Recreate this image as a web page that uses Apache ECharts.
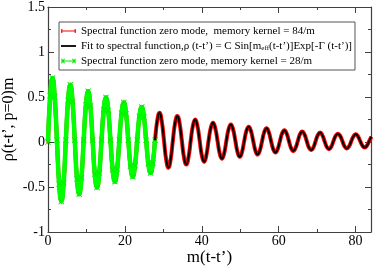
<!DOCTYPE html>
<html><head><meta charset="utf-8">
<script src="https://cdn.jsdelivr.net/npm/echarts@6/dist/echarts.min.js"></script>
<style>html,body{margin:0;padding:0;background:#fff}#c{width:374px;height:267px}</style>
</head><body><div id="c"></div>
<script>
// time axis m(t-t')
var xs = [0,0.58,1.16,1.74,2.32,2.9,3.48,4.06,4.64,5.22,5.8,6.38,6.96,7.54,8.12,8.7,9.28,9.86,10.44,11.02,11.6,12.18,12.76,13.34,13.92,14.5,15.08,15.66,16.24,16.82,17.4,17.98,18.56,19.14,19.72,20.3,20.88,21.46,22.04,22.62,23.2,23.78,24.36,24.94,25.52,26.1,26.68,27.26,27.84,28.42,29.0,29.58,30.16,30.74,31.32,31.9,32.48,33.06,33.64,34.22,34.8,35.38,35.96,36.54,37.12,37.7,38.28,38.86,39.44,40.02,40.6,41.18,41.76,42.34,42.92,43.5,44.08,44.66,45.24,45.82,46.4,46.98,47.56,48.14,48.72,49.3,49.88,50.46,51.04,51.62,52.2,52.78,53.36,53.94,54.52,55.1,55.68,56.26,56.84,57.42,58.0,58.58,59.16,59.74,60.32,60.9,61.48,62.06,62.64,63.22,63.8,64.38,64.96,65.54,66.12,66.7,67.28,67.86,68.44,69.02,69.6,70.18,70.76,71.34,71.92,72.5,73.08,73.66,74.24,74.82,75.4,75.98,76.56,77.14,77.72,78.3,78.88,79.46,80.04,80.62,81.2,81.78,82.36,82.94,83.52,84.1];
// spectral function zero mode, memory kernel = 84/m
var rho84 = [0.0,0.515,0.71,0.500,0.02,-0.468,-0.66,-0.454,
0.02,0.461,0.635,0.448,0.02,-0.410,-0.58,-0.398,
0.02,0.411,0.565,0.399,0.02,-0.356,-0.505,-0.345,
0.02,0.361,0.495,0.351,0.02,-0.309,-0.44,-0.300,
0.02,0.321,0.44,0.312,0.02,-0.270,-0.385,-0.262,
0.02,0.286,0.39,0.277,0.02,-0.241,-0.345,-0.234,
0.02,0.239,0.325,0.232,0.02,-0.198,-0.285,-0.192,
0.018,0.213,0.29,0.207,0.018,-0.174,-0.25,-0.169,
0.016,0.184,0.25,0.179,0.016,-0.153,-0.22,-0.148,
0.015,0.158,0.215,0.154,0.015,-0.129,-0.185,-0.125,
0.015,0.144,0.195,0.140,0.015,-0.114,-0.165,-0.111,
0.013,0.126,0.17,0.122,0.013,-0.096,-0.14,-0.093,
0.012,0.113,0.152,0.109,0.012,-0.080,-0.117,-0.078,
0.012,0.097,0.13,0.094,0.012,-0.068,-0.10,-0.066,
0.011,0.087,0.117,0.084,0.011,-0.062,-0.09,-0.060,
0.01,0.078,0.105,0.076,0.01,-0.054,-0.08,-0.053,
0.01,0.070,0.093,0.068,0.01,-0.049,-0.072,-0.047,
0.01,0.064,0.085,0.062,0.01,-0.041,-0.062,-0.040,
0.01,0.059];
// spectral function zero mode, memory kernel = 28/m (covers first 49 samples)
var rho28 = [0.0,0.515,0.71,0.500,0.02,-0.468,-0.66,-0.454,
0.02,0.461,0.635,0.448,0.02,-0.410,-0.58,-0.398,
0.02,0.411,0.565,0.399,0.02,-0.356,-0.505,-0.345,
0.02,0.361,0.495,0.351,0.02,-0.309,-0.44,-0.300,
0.02,0.321,0.44,0.312,0.02,-0.270,-0.385,-0.262,
0.02,0.286,0.39,0.277,0.02,-0.241,-0.345,-0.234,
0.02];
// fit, starting at sample index 48 (x = 27.84)
var fitStart = 48;
var fitVals = rho84.slice(fitStart);

var xTicks = [0,20,40,60,80];
var yTicks = [-1,-0.5,0,0.5,1,1.5];

function pairs(xarr, yarr, off){ var o=[]; for(var i=0;i<yarr.length;i++){ o.push([xarr[i+(off||0)], yarr[i]]); } return o; }

var SERIF = 'Liberation Serif, Times New Roman, serif';
var axisCol = '#404040';
var xShape = 'path://M0,1L1,0L5,4L9,0L10,1L6,5L10,9L9,10L5,6L1,10L0,9L4,5Z';
// legend icons (15 x 10 box)
var iconRed = 'path://M0,4.4L15,4.4L15,5.6L0,5.6Z M0.2,3L1.4,3L1.4,7L0.2,7Z M13.6,3L14.8,3L14.8,7L13.6,7Z';
var iconBlack = 'path://M0,4.1L15,4.1L15,5.9L0,5.9Z';
var iconGreen = 'path://M0,4.5L15,4.5L15,5.5L0,5.5Z M0,3L0.8,2.4L2,4.1L3.2,2.4L4,3L2.7,5L4,7L3.2,7.6L2,5.9L0.8,7.6L0,7L1.3,5Z M11,3L11.8,2.4L13,4.1L14.2,2.4L15,3L13.7,5L15,7L14.2,7.6L13,5.9L11.8,7.6L11,7L12.3,5Z';

var chart = echarts.init(document.getElementById('c'), null, {renderer:'canvas'});
function xAx(pos, show){
  return {type:'value', position:pos, min:0, max:84, interval:20,
    axisLine:{show:true, onZero:false, lineStyle:{color:axisCol, width:1.2}},
    axisTick:{show:true, inside:true, length:6, lineStyle:{color:axisCol}},
    minorTick:{show:true, splitNumber:2, length:3, lineStyle:{color:axisCol}},
    splitLine:{show:false},
    axisLabel:{show:show, margin:2, fontFamily:SERIF, fontSize:14, color:'#000',
      formatter:function(v){ return xTicks.indexOf(v)>=0 ? String(v) : ''; }},
    name: show ? 'm(t-t’)' : '', nameLocation:'middle', nameGap:17, nameMoveOverlap:false,
    nameTextStyle:{fontFamily:SERIF, fontSize:17, color:'#000'}};
}
function yAx(pos, show){
  return {type:'value', position:pos, min:-1, max:1.5, interval:0.5,
    axisLine:{show:true, onZero:false, lineStyle:{color:axisCol, width:1.2}},
    axisTick:{show:true, inside:true, length:6, lineStyle:{color:axisCol}},
    minorTick:{show:true, splitNumber:2, length:3, lineStyle:{color:axisCol}},
    splitLine:{show:false},
    axisLabel:{show:show, margin:3, fontFamily:SERIF, fontSize:14, color:'#000',
      formatter:function(v){ return yTicks.indexOf(v)>=0 ? String(v) : ''; }},
    name: show ? 'ρ(t-t’, p=0)m' : '', nameLocation:'middle', nameGap:31, nameRotate:90, nameMoveOverlap:false,
    nameTextStyle:{fontFamily:SERIF, fontSize:16, color:'#000'}};
}
var nameA = 'Spectral function zero mode,  memory kernel = 84/m';
var nameB = 'Fit to spectral function,ρ (t-t’) = C Sin[m_eff(t-t’)]Exp[-Γ (t-t’)]';
var nameC = 'Spectral function zero mode, memory kernel = 28/m';
chart.setOption({
  animation:false,
  backgroundColor:'#fff',
  grid:{left:48, right:3, top:7, bottom:35, containLabel:false, outerBoundsMode:'none'},
  xAxis:[xAx('bottom', true), xAx('top', false)],
  yAxis:[yAx('left', true), yAx('right', false)],
  legend:{
    orient:'vertical', left:59, top:22,
    padding:[3,3,3,2], itemGap:3, itemWidth:15, itemHeight:10,
    borderColor:'#555', borderWidth:1, backgroundColor:'#fff', borderRadius:0,
    data:[{name:nameA, icon:iconRed}, {name:nameB, icon:iconBlack}, {name:nameC, icon:iconGreen}],
    textStyle:{fontFamily:SERIF, fontSize:11, color:'#000', lineHeight:12,
      rich:{sub:{fontFamily:SERIF, fontSize:7, lineHeight:7, verticalAlign:'bottom', color:'#000'}}},
    formatter:function(n){
      if(n===nameB){ return 'Fit to spectral function,ρ (t-t’) = C Sin[m{sub|eff}(t-t’)]Exp[-Γ (t-t’)]'; }
      return n;
    }
  },
  series:[
    {name:nameA, type:'line', xAxisIndex:0, yAxisIndex:0, data:pairs(xs, rho84, 0),
      smooth:0.5, symbol:'circle', symbolSize:3, showSymbol:true,
      lineStyle:{color:'#ff0000', width:4}, itemStyle:{color:'#ff0000'}, z:2},
    {name:nameC, type:'line', xAxisIndex:0, yAxisIndex:0, data:pairs(xs, rho28, 0),
      smooth:0.5, symbol:xShape, symbolSize:6, showSymbol:true,
      lineStyle:{color:'#00ff00', width:4.5}, itemStyle:{color:'#00ee00'}, z:3},
    {name:nameB, type:'line', xAxisIndex:0, yAxisIndex:0, data:pairs(xs, fitVals, fitStart),
      smooth:0.5, symbol:'none', showSymbol:false,
      lineStyle:{color:'#000', width:2}, itemStyle:{color:'#000'}, z:4}
  ]
});
</script></body></html>
